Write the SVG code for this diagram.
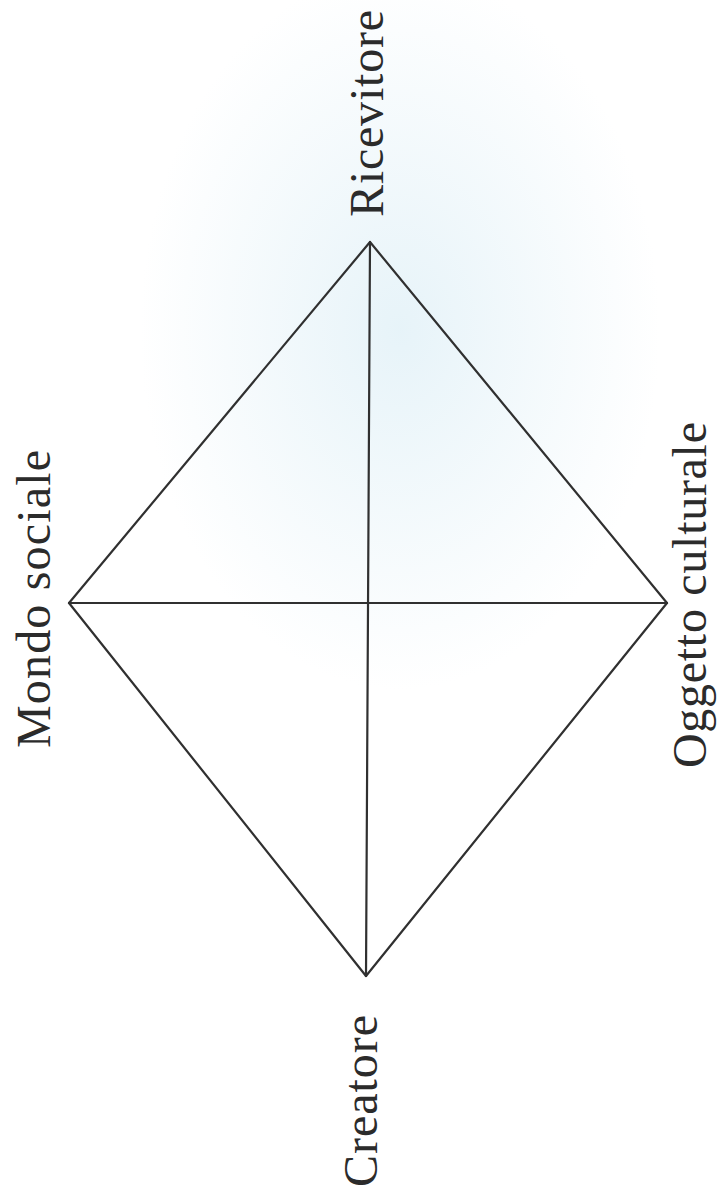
<svg xmlns="http://www.w3.org/2000/svg" width="719" height="1193" viewBox="0 0 719 1193">
<defs>
<radialGradient id="tint" cx="0.5" cy="0.5" r="0.5">
<stop offset="0" stop-color="#e4f2f8" stop-opacity="0.9"/>
<stop offset="1" stop-color="#e4f2f8" stop-opacity="0"/>
</radialGradient>
</defs>
<style>
.lbl{font-family:"Liberation Serif","DejaVu Serif",serif;font-size:48px;fill:#2b2b2b;}
.ln{stroke:#303030;stroke-width:2.2;fill:none;stroke-linecap:round;}
</style>
<rect width="719" height="1193" fill="#ffffff"/>
<ellipse cx="400" cy="330" rx="260" ry="360" fill="url(#tint)"/>
<g id="connectors">
<line class="ln" x1="370" y1="242" x2="69" y2="603"/>
<line class="ln" x1="370" y1="242" x2="667" y2="603"/>
<line class="ln" x1="69" y1="603" x2="366" y2="976"/>
<line class="ln" x1="667" y1="603" x2="366" y2="976"/>
<line class="ln" x1="69" y1="603" x2="667" y2="603"/>
<line class="ln" x1="370" y1="242" x2="366" y2="976"/>
</g>
<g id="node-ricevitore">
<text class="lbl" transform="translate(383,217) rotate(-90)" textLength="207" lengthAdjust="spacing">Ricevitore</text>
</g>
<g id="node-mondo-sociale">
<text class="lbl" transform="translate(50,748) rotate(-90)" textLength="298" lengthAdjust="spacing">Mondo sociale</text>
</g>
<g id="node-oggetto-culturale">
<text class="lbl" transform="translate(706,768) rotate(-90)" textLength="346" lengthAdjust="spacing">Oggetto culturale</text>
</g>
<g id="node-creatore">
<text class="lbl" transform="translate(377,1187) rotate(-90)" textLength="172" lengthAdjust="spacing">Creatore</text>
</g>
</svg>
